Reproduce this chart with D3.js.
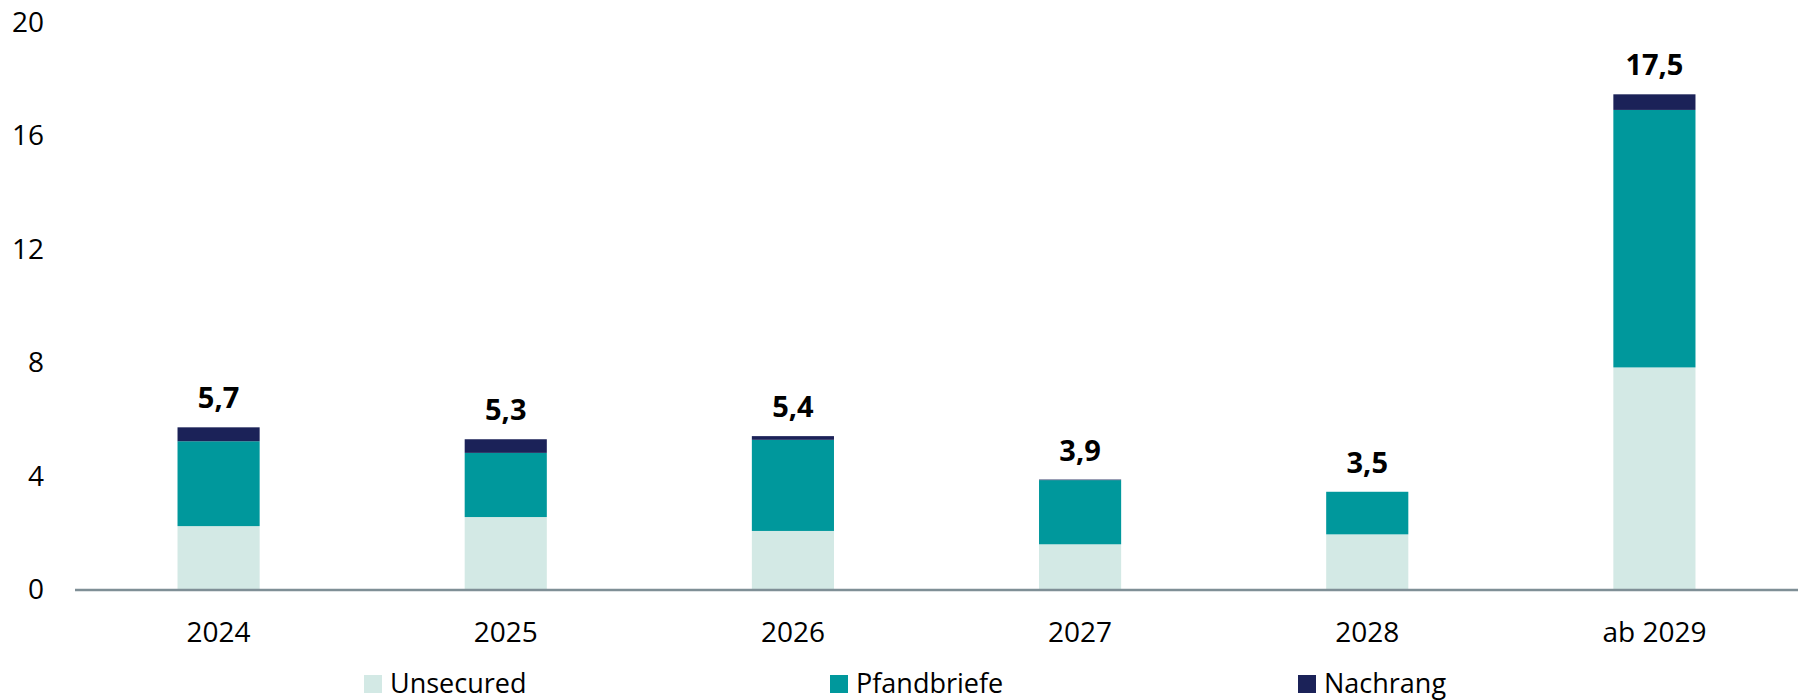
<!DOCTYPE html>
<html>
<head>
<meta charset="utf-8">
<script src="https://cdn.jsdelivr.net/npm/d3@7/dist/d3.min.js"></script>
<style>
  html, body { margin: 0; padding: 0; background: #ffffff; }
  svg { display: block; }
</style>
</head>
<body>
<svg id="chart" width="1806" height="700"></svg>
<script>
// Fälligkeitsprofil (Mrd. Euro) je Jahr, gestapelt nach Emissionsart
const categories = ["2024", "2025", "2026", "2027", "2028", "ab 2029"];
const unsecured   = [2.25, 2.57, 2.08, 1.61, 1.96, 7.84];
const pfandbriefe = [2.99, 2.26, 3.21, 2.26, 1.50, 9.07];
const nachrang    = [0.49, 0.48, 0.13, 0.02, 0.00, 0.55];
const seriesNames = ["Unsecured", "Pfandbriefe", "Nachrang"];
const yTicks = [0, 4, 8, 12, 16, 20];

const colors = ["#d3e9e5", "#00989c", "#1b2258"];
const font = "'Open Sans', 'Noto Sans', sans-serif";

const svg = d3.select("#chart");

const x = d3.scaleBand()
  .domain(categories)
  .range([75, 1798])
  .paddingInner(0.714)
  .paddingOuter(0.357);

const y = d3.scaleLinear()
  .domain([0, 20])
  .range([590, 22.2]);

const rows = categories.map((c, i) => ({
  cat: c,
  Unsecured: unsecured[i],
  Pfandbriefe: pfandbriefe[i],
  Nachrang: nachrang[i]
}));

const stacked = d3.stack().keys(seriesNames)(rows);

// stacked bars
svg.append("g")
  .selectAll("g")
  .data(stacked)
  .join("g")
  .attr("fill", (d, i) => colors[i])
  .selectAll("rect")
  .data(d => d)
  .join("rect")
  .attr("x", d => x(d.data.cat))
  .attr("width", x.bandwidth())
  .attr("y", d => y(d[1]))
  .attr("height", d => Math.max(0, y(d[0]) - y(d[1])));

// y axis labels (no line, no ticks)
const yAxis = svg.append("g")
  .attr("transform", "translate(47,0)")
  .call(d3.axisLeft(y).tickValues(yTicks).tickSize(0).tickPadding(3).tickFormat(d3.format("d")));
yAxis.select(".domain").remove();
yAxis.selectAll("text")
  .attr("font-family", font)
  .attr("font-size", 28)
  .attr("fill", "#000");

// x axis baseline
svg.append("line")
  .attr("x1", 75).attr("x2", 1798)
  .attr("y1", y(0)).attr("y2", y(0))
  .attr("stroke", "#7f8f96")
  .attr("stroke-width", 2.5);

// x axis labels
const xAxis = svg.append("g")
  .attr("transform", `translate(0,${y(0)})`)
  .call(d3.axisBottom(x).tickSize(0).tickPadding(32));
xAxis.select(".domain").remove();
xAxis.selectAll("text")
  .attr("font-family", font)
  .attr("font-size", 28)
  .attr("fill", "#000");

// total labels above each bar
const fmt = v => d3.format(".1f")(v).replace(".", ",");
svg.append("g")
  .selectAll("text")
  .data(rows)
  .join("text")
  .attr("x", d => x(d.cat) + x.bandwidth() / 2)
  .attr("y", d => y(d.Unsecured + d.Pfandbriefe + d.Nachrang) - 19)
  .attr("text-anchor", "middle")
  .attr("font-family", font)
  .attr("font-size", 29)
  .attr("font-weight", "bold")
  .attr("fill", "#000")
  .text(d => fmt(d.Unsecured + d.Pfandbriefe + d.Nachrang));

// legend
const legendX = [364, 830, 1298];
const legend = svg.append("g")
  .selectAll("g")
  .data(seriesNames)
  .join("g")
  .attr("transform", (d, i) => `translate(${legendX[i]},675)`);
legend.append("rect")
  .attr("width", 18)
  .attr("height", 18)
  .attr("fill", (d, i) => colors[i]);
legend.append("text")
  .attr("x", 26)
  .attr("y", 18)
  .attr("font-family", font)
  .attr("font-size", 27)
  .attr("fill", "#000")
  .text(d => d);
</script>
</body>
</html>
